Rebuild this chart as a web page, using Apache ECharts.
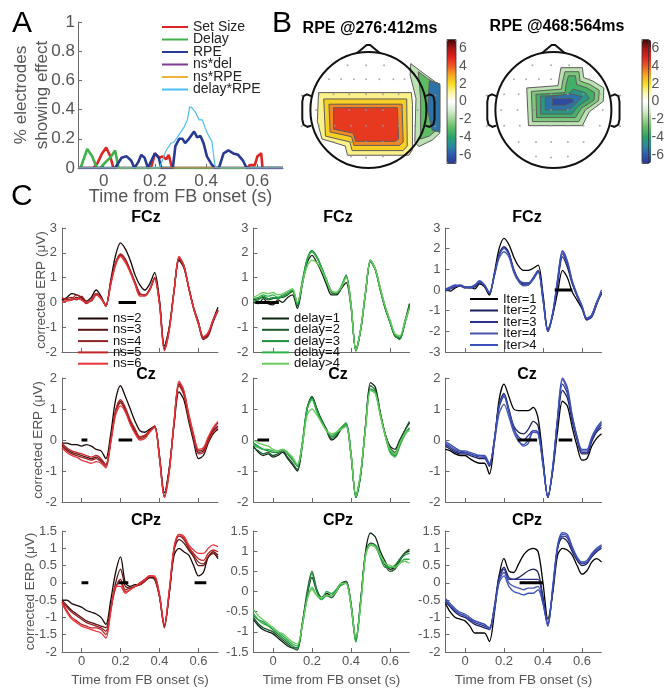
<!DOCTYPE html>
<html>
<head>
<meta charset="utf-8">
<script src="https://cdn.jsdelivr.net/npm/echarts@6/dist/echarts.min.js"></script>
<style>
html, body { margin: 0; padding: 0; background: #fff; }
#chart { width: 667px; height: 688px; }
</style>
</head>
<body>
<div id="chart"></div>
<script>
const FONT = '"Liberation Sans", Arial, Helvetica, sans-serif';

// ---------- panel A : % electrodes showing effect ----------
const aSetSize = [[-0.1,0],[-0.04,0],[-0.025,0.03],[-0.006,0.1],[0.01,0.14],[0.026,0.08],[0.038,0],[0.185,0],[0.2,0.1],[0.207,0.09],[0.218,0.07],[0.23,0.08],[0.244,0.06],[0.254,0.09],[0.267,0],[0.56,0],[0.57,0.02],[0.59,0.02],[0.6,0.08],[0.615,0.1],[0.62,0],[0.7,0]];
const aDelay = [[-0.1,0],[-0.09,0],[-0.064,0.13],[-0.045,0.08],[-0.026,0],[-0.013,0],[0.013,0.05],[0.026,0.07],[0.045,0.12],[0.058,0],[0.7,0]];
const aRPE = [[-0.1,0],[0.045,0],[0.07,0.07],[0.09,0.08],[0.108,0.05],[0.12,0],[0.135,0.04],[0.147,0.09],[0.16,0.07],[0.173,0],[0.186,0.05],[0.2,0.1],[0.215,0.07],[0.225,0],[0.27,0],[0.28,0.15],[0.295,0.2],[0.308,0.2],[0.318,0.17],[0.333,0.2],[0.353,0.25],[0.365,0.21],[0.378,0.22],[0.39,0.17],[0.403,0.08],[0.423,0.02],[0.436,0],[0.45,0],[0.468,0.1],[0.487,0.12],[0.506,0.1],[0.525,0.09],[0.544,0.05],[0.558,0],[0.7,0]];
const aNsDel = [[-0.1,0],[0.7,0]];
const aNsRPE = [[-0.1,0],[0.7,0]];
const aDelayRPE = [[-0.1,0],[0.218,0],[0.244,0.12],[0.263,0.17],[0.276,0.18],[0.295,0.23],[0.314,0.28],[0.327,0.33],[0.336,0.42],[0.346,0.41],[0.359,0.38],[0.372,0.33],[0.385,0.33],[0.397,0.27],[0.41,0.22],[0.423,0.18],[0.433,0.03],[0.438,0],[0.7,0]];
const timeTicks = [0, 0.2, 0.4, 0.6];

// ---------- panel B : scalp maps (head radius = 1) ----------
const topo1Levels = [1.2, 2.3, 3.4, 4.6, -1.5, -3.0, -5.5];
const topo1Polys = [
  [[-0.86,0.3],[0.74,0.3],[0.76,0.1],[0.76,-0.68],[0.7,-0.78],[-0.36,-0.78],[-0.4,-0.62],[-0.8,-0.5],[-0.88,-0.2]],
  [[-0.77,0.19],[0.66,0.19],[0.67,-0.62],[0.6,-0.7],[-0.28,-0.7],[-0.32,-0.55],[-0.74,-0.45]],
  [[-0.68,0.1],[0.58,0.1],[0.6,-0.55],[0.54,-0.61],[-0.25,-0.61],[-0.29,-0.46],[-0.66,-0.38]],
  [[-0.6,0.04],[0.5,0.04],[0.52,-0.5],[0.46,-0.54],[-0.22,-0.54],[-0.26,-0.4],[-0.6,-0.33]],
  [[0.73,0.8],[0.94,0.64],[1.16,0.48],[1.23,0.45],[1.23,-0.4],[1.1,-0.52],[0.87,-0.63],[0.8,-0.55],[0.82,0.2],[0.72,0.6]],
  [[0.86,0.66],[1.02,0.54],[1.18,0.45],[1.23,0.42],[1.23,-0.3],[1.05,-0.45],[0.9,-0.5],[0.9,0.2]],
  [[1.05,0.5],[1.23,0.45],[1.23,-0.38],[1.1,-0.35],[1.02,0.0]]
];
const topo2Levels = [-1.5, -2.5, -3.5, -4.5, -5.5, -6.5];
const topo2Polys = [
  [[0.13,0.73],[0.5,0.73],[0.52,0.56],[0.68,0.5],[0.87,0.38],[0.86,0.15],[0.62,-0.03],[0.5,-0.27],[-0.43,-0.27],[-0.46,0.38],[0.08,0.42],[0.1,0.56]],
  [[0.2,0.66],[0.44,0.66],[0.46,0.5],[0.63,0.44],[0.79,0.34],[0.78,0.16],[0.55,0.0],[0.44,-0.2],[-0.36,-0.2],[-0.38,0.32],[0.14,0.36],[0.16,0.5]],
  [[0.26,0.59],[0.38,0.59],[0.4,0.44],[0.58,0.38],[0.71,0.3],[0.7,0.17],[0.48,0.03],[0.38,-0.13],[-0.29,-0.13],[-0.3,0.27],[0.2,0.3],[0.22,0.44]],
  [[-0.22,0.24],[0.25,0.26],[0.34,0.36],[0.55,0.3],[0.62,0.2],[0.42,0.06],[0.32,-0.07],[-0.22,-0.07]],
  [[-0.14,0.22],[0.3,0.28],[0.5,0.23],[0.36,0.08],[0.25,0.0],[-0.14,0.0]],
  [[-0.02,0.2],[0.32,0.2],[0.36,0.14],[0.2,0.08],[-0.02,0.08]]
];
const electrodes = [
  [-0.36,0.77],[-0.04,0.77],[0.27,0.77],
  [-0.68,0.53],[-0.47,0.53],[-0.25,0.53],[-0.04,0.53],[0.19,0.53],[0.43,0.53],[0.62,0.53],
  [-1.15,0.25],[-0.85,0.27],[-0.6,0.27],[-0.33,0.27],[-0.04,0.27],[0.25,0.27],[0.52,0.27],[0.8,0.27],[1.15,0.25],
  [-0.9,0.0],[-0.62,0.0],[-0.33,0.0],[-0.04,0.0],[0.25,0.0],[0.55,0.0],[0.85,0.0],
  [-1.15,-0.28],[-0.85,-0.27],[-0.58,-0.27],[-0.3,-0.27],[-0.04,-0.27],[0.25,-0.27],[0.52,-0.27],[0.8,-0.27],[1.15,-0.28],
  [-0.6,-0.55],[-0.3,-0.55],[-0.04,-0.55],[0.25,-0.55],[0.52,-0.55],
  [-0.3,-0.8],[-0.04,-0.82],[0.25,-0.8]
];
const cbarTicks = [-6, -4, -2, 0, 2, 4, 6];
const cmap = ['#2b3990','#2f5cb0','#2a8aa0','#2aa36a','#5dbb63','#9fd393','#d9eed2','#ffffff','#fbf6a4','#f8df22','#f6a623','#ee5a24','#e2231d','#a81616','#3a0808'];

// ---------- panel C : ERPs ----------
const tERP = [-0.1,-0.075,-0.05,-0.025,0,0.025,0.05,0.075,0.1,0.125,0.15,0.175,0.2,0.225,0.25,0.275,0.3,0.325,0.35,0.375,0.4,0.425,0.45,0.475,0.5,0.525,0.55,0.575,0.6,0.625,0.65,0.675,0.7];
const nsNames = ['ns=2','ns=3','ns=4','ns=5','ns=6'];
const delayNames = ['delay=1','delay=2','delay=3','delay=4','delay>4'];
const iterNames = ['Iter=1','Iter=2','Iter=3','Iter=4','Iter>4'];
const nsColors = ['#1a0505','#5a1515','#8e2222','#bf2626','#e8343c'];
const delayColors = ['#0b2410','#1f5a2c','#1b8f3a','#2cb14a','#6ccb5f'];
const iterColors = ['#000000','#1b1f5e','#2b318e','#4656a8','#3a50bb'];

const fczNs = [
  [0.1,0.2,0.35,0.3,0.2,0.05,0.2,0.5,0.25,-0.15,0.9,1.9,2.4,2.15,1.7,1.1,0.7,0.5,0.75,1.2,0.1,-1.75,-1.0,0.5,1.7,1.4,0.6,-0.2,-0.8,-1.4,-1.25,-0.7,-0.2],
  [0.15,0.1,0.1,0.2,0.1,0.0,0.1,0.35,0.2,-0.15,0.8,1.6,1.95,1.75,1.3,0.8,0.35,0.3,0.55,1.0,0.0,-1.85,-1.05,0.5,1.8,1.5,0.6,-0.25,-0.85,-1.45,-1.3,-0.75,-0.3],
  [0.05,0.15,0.2,0.1,0.25,0.05,0.05,0.3,0.15,-0.1,0.75,1.55,1.9,1.7,1.25,0.75,0.3,0.3,0.5,0.95,-0.05,-1.9,-1.1,0.45,1.75,1.45,0.55,-0.25,-0.9,-1.5,-1.35,-0.8,-0.35],
  [0.2,0.1,0.15,0.3,0.15,-0.05,0.1,0.35,0.2,-0.1,0.8,1.6,1.95,1.7,1.3,0.8,0.35,0.3,0.5,1.0,0.0,-1.85,-1.05,0.5,1.8,1.45,0.6,-0.2,-0.8,-1.4,-1.25,-0.7,-0.3],
  [0.0,0.05,0.1,0.15,0.1,0.0,0.1,0.3,0.15,-0.15,0.7,1.5,1.85,1.6,1.2,0.7,0.25,0.25,0.5,0.95,-0.1,-1.95,-1.15,0.45,1.85,1.5,0.6,-0.25,-0.85,-1.4,-1.2,-0.7,-0.35]
];
const fczDelay = [
  [0.0,-0.05,0.15,-0.05,-0.1,0.1,0.0,0.2,0.3,-0.25,0.7,1.6,1.9,1.6,1.2,0.7,0.3,0.3,0.55,0.8,-0.2,-1.9,-1.1,0.4,1.65,1.3,0.5,-0.25,-0.8,-1.35,-1.45,-0.8,-0.05],
  [0.1,0.15,0.2,0.1,0.15,0.2,0.2,0.3,0.45,-0.15,0.8,1.7,2.05,1.8,1.35,0.85,0.4,0.35,0.6,1.05,-0.1,-1.95,-1.1,0.45,1.7,1.35,0.55,-0.2,-0.8,-1.35,-1.45,-0.85,-0.15],
  [0.05,0.1,0.25,0.15,0.2,0.15,0.25,0.35,0.5,-0.1,0.85,1.75,2.1,1.85,1.4,0.9,0.45,0.35,0.65,1.1,-0.05,-1.95,-1.05,0.45,1.7,1.35,0.55,-0.15,-0.75,-1.3,-1.5,-0.9,-0.1],
  [0.15,0.2,0.3,0.25,0.3,0.2,0.3,0.4,0.5,-0.05,0.8,1.7,2.05,1.8,1.4,0.9,0.45,0.4,0.65,1.05,-0.1,-1.95,-1.1,0.4,1.65,1.3,0.5,-0.2,-0.8,-1.3,-1.4,-0.85,-0.2],
  [0.2,0.3,0.4,0.35,0.4,0.3,0.35,0.45,0.55,0.0,0.75,1.45,1.7,1.6,1.3,0.85,0.45,0.4,0.6,1.0,-0.1,-1.9,-1.05,0.45,1.7,1.35,0.6,-0.15,-0.7,-1.25,-1.35,-0.8,-0.25]
];
const fczIter = [
  [0.0,-0.05,0.1,0.2,0.1,0.15,0.05,0.3,0.15,-0.25,0.8,2.0,2.5,2.2,1.6,1.15,0.95,0.95,1.05,1.2,-0.2,-1.9,-1.2,-0.1,0.95,0.6,-0.1,-0.5,-0.9,-1.45,-1.2,-0.6,-0.2],
  [0.05,0.1,0.2,0.2,0.15,0.1,0.15,0.35,0.2,-0.2,0.7,1.75,2.1,1.8,1.0,0.5,0.3,0.3,0.6,0.95,-0.4,-2.0,-1.2,0.3,1.6,1.1,0.3,-0.3,-0.8,-1.4,-1.3,-0.7,-0.1],
  [-0.05,0.05,0.15,0.25,0.15,0.1,0.2,0.4,0.25,-0.15,0.7,1.7,2.05,1.75,0.95,0.45,0.25,0.25,0.55,0.9,-0.45,-2.0,-1.15,0.4,1.75,1.25,0.35,-0.3,-0.85,-1.45,-1.3,-0.7,-0.15],
  [0.0,0.1,0.2,0.2,0.1,0.1,0.2,0.4,0.2,-0.15,0.65,1.55,1.85,1.6,0.85,0.4,0.2,0.25,0.5,0.85,-0.5,-2.0,-1.1,0.5,1.85,1.35,0.4,-0.25,-0.8,-1.4,-1.25,-0.65,-0.1],
  [0.05,0.15,0.25,0.2,0.15,0.15,0.25,0.45,0.25,-0.1,0.7,1.65,2.0,1.7,0.95,0.5,0.35,0.35,0.6,0.95,-0.4,-1.95,-1.1,0.55,1.9,1.4,0.45,-0.2,-0.75,-1.35,-1.2,-0.6,0.0]
];
const czNs = [
  [-0.1,-0.1,-0.15,-0.15,-0.2,-0.15,-0.2,-0.3,-0.35,-0.6,0.2,1.3,1.75,1.4,1.0,0.6,0.3,0.25,0.35,0.45,-0.5,-1.7,-0.9,0.5,1.55,1.3,0.6,-0.05,-0.6,-0.5,-0.1,0.2,0.35],
  [-0.15,-0.3,-0.4,-0.45,-0.5,-0.55,-0.6,-0.55,-0.65,-0.8,0.0,0.95,1.25,1.0,0.6,0.3,0.1,0.15,0.3,0.45,-0.55,-1.8,-0.95,0.6,1.8,1.5,0.75,0.1,-0.4,-0.35,0.0,0.3,0.45],
  [-0.2,-0.35,-0.45,-0.5,-0.55,-0.6,-0.65,-0.6,-0.7,-0.85,-0.05,0.9,1.2,0.95,0.55,0.25,0.05,0.1,0.3,0.4,-0.6,-1.85,-1.0,0.6,1.85,1.55,0.8,0.15,-0.35,-0.3,0.05,0.35,0.55],
  [-0.1,-0.25,-0.35,-0.4,-0.45,-0.5,-0.55,-0.5,-0.6,-0.8,0.0,0.95,1.3,1.05,0.65,0.35,0.1,0.15,0.3,0.45,-0.55,-1.8,-0.95,0.55,1.75,1.45,0.7,0.05,-0.45,-0.4,-0.05,0.25,0.4],
  [-0.25,-0.4,-0.5,-0.55,-0.65,-0.7,-0.75,-0.7,-0.75,-0.9,-0.1,0.8,1.1,0.9,0.5,0.2,0.0,0.05,0.25,0.4,-0.6,-1.85,-1.05,0.6,1.9,1.6,0.85,0.2,-0.3,-0.25,0.1,0.4,0.6]
];
const czDelay = [
  [-0.2,-0.4,-0.5,-0.45,-0.55,-0.5,-0.4,-0.6,-0.8,-1.0,-0.2,1.0,1.4,1.0,0.6,0.3,0.0,0.1,0.35,0.45,-0.5,-1.8,-1.1,0.5,1.85,1.7,0.9,0.2,-0.2,-0.3,0.0,0.3,0.55],
  [-0.25,-0.35,-0.45,-0.4,-0.5,-0.45,-0.35,-0.55,-0.75,-0.95,-0.15,1.0,1.4,1.0,0.65,0.35,0.05,0.15,0.35,0.5,-0.45,-1.85,-1.1,0.5,1.75,1.6,0.85,0.2,-0.25,-0.4,-0.05,0.3,0.6],
  [-0.1,-0.2,-0.3,-0.35,-0.4,-0.4,-0.3,-0.45,-0.65,-0.85,-0.1,1.05,1.35,0.95,0.6,0.3,0.1,0.2,0.4,0.55,-0.4,-1.85,-1.1,0.45,1.65,1.55,0.85,0.15,-0.35,-0.5,-0.15,0.2,0.4],
  [-0.15,-0.25,-0.3,-0.3,-0.35,-0.35,-0.3,-0.4,-0.6,-0.8,-0.1,1.0,1.3,0.9,0.55,0.3,0.15,0.25,0.4,0.5,-0.45,-1.8,-1.05,0.45,1.6,1.5,0.8,0.15,-0.4,-0.55,-0.2,0.15,0.35],
  [0.0,-0.1,-0.15,-0.2,-0.3,-0.35,-0.3,-0.4,-0.55,-0.8,-0.2,0.8,1.0,0.8,0.55,0.3,0.2,0.25,0.35,0.45,-0.45,-1.8,-1.0,0.4,1.6,1.5,0.8,0.15,-0.3,-0.45,-0.1,0.2,0.3]
];
const czIter = [
  [-0.3,-0.35,-0.45,-0.5,-0.5,-0.6,-0.7,-0.75,-0.75,-1.1,-0.1,1.3,1.8,1.4,1.0,0.95,0.95,0.95,1.05,0.7,-0.6,-1.85,-1.0,0.3,1.25,1.1,0.4,-0.2,-0.65,-0.6,-0.2,0.05,0.2],
  [-0.2,-0.3,-0.4,-0.45,-0.45,-0.5,-0.55,-0.6,-0.6,-0.85,0.0,1.15,1.5,1.0,0.45,0.25,0.2,0.35,0.6,0.45,-0.7,-1.85,-0.95,0.6,1.6,1.35,0.6,0.0,-0.45,-0.45,-0.05,0.25,0.4],
  [-0.15,-0.25,-0.35,-0.4,-0.4,-0.45,-0.5,-0.55,-0.55,-0.8,-0.05,1.05,1.4,0.9,0.35,0.1,0.0,0.15,0.3,0.25,-0.8,-1.85,-0.9,0.7,1.8,1.5,0.7,0.05,-0.4,-0.4,0.0,0.3,0.5],
  [-0.1,-0.2,-0.3,-0.35,-0.35,-0.4,-0.45,-0.5,-0.5,-0.75,-0.1,0.85,1.15,0.75,0.25,-0.05,-0.15,0.0,0.25,0.2,-0.8,-1.8,-0.85,0.7,1.95,1.6,0.75,0.1,-0.35,-0.35,0.05,0.35,0.55],
  [-0.05,-0.15,-0.25,-0.35,-0.4,-0.45,-0.5,-0.5,-0.55,-0.8,0.0,1.1,1.45,0.95,0.4,0.0,-0.2,-0.1,0.3,0.25,-0.75,-1.85,-0.9,0.75,2.0,1.7,0.8,0.1,-0.3,-0.3,0.1,0.4,0.6]
];
const cpzNs = [
  [-0.5,-0.5,-0.6,-0.65,-0.7,-0.8,-0.85,-0.9,-1.0,-1.2,-0.5,0.3,0.75,0.0,-0.1,-0.05,-0.05,0.05,0.15,0.1,-0.4,-1.25,-0.3,0.8,1.0,0.9,0.8,0.5,0.2,0.3,0.75,0.85,0.7],
  [-0.5,-0.65,-0.8,-0.9,-1.0,-1.1,-1.15,-1.2,-1.25,-1.3,-0.7,0.0,0.4,-0.1,-0.15,-0.1,-0.05,0.05,0.15,0.15,-0.35,-1.25,-0.3,0.95,1.25,1.15,0.95,0.75,0.5,0.5,0.75,0.9,0.8],
  [-0.55,-0.7,-0.85,-0.95,-1.05,-1.15,-1.2,-1.25,-1.3,-1.4,-0.75,-0.15,0.1,-0.2,-0.15,-0.1,0.0,0.1,0.2,0.15,-0.4,-1.3,-0.3,1.0,1.35,1.25,1.0,0.8,0.6,0.55,0.75,0.85,0.75],
  [-0.55,-0.8,-1.0,-1.1,-1.2,-1.25,-1.3,-1.3,-1.35,-1.5,-0.8,-0.1,0.0,-0.25,-0.2,-0.1,-0.05,0.05,0.2,0.15,-0.4,-1.25,-0.25,1.0,1.4,1.3,1.05,0.85,0.7,0.65,0.85,0.95,0.9],
  [-0.6,-0.85,-1.05,-1.15,-1.25,-1.3,-1.35,-1.4,-1.45,-1.6,-0.85,-0.1,-0.1,-0.3,-0.2,-0.1,0.0,0.1,0.2,0.2,-0.35,-1.2,-0.2,1.05,1.4,1.35,1.1,0.95,0.85,0.85,1.0,1.1,1.05]
];
const cpzDelay = [
  [-0.7,-0.85,-0.95,-1.0,-1.05,-1.15,-1.25,-1.35,-1.4,-1.4,-0.8,-0.1,0.35,0.0,-0.15,-0.05,-0.1,0.0,0.2,0.25,-0.3,-1.2,-0.2,1.0,1.45,1.35,1.0,0.75,0.55,0.6,0.8,0.95,1.0],
  [-0.65,-0.8,-0.9,-0.95,-1.0,-1.1,-1.2,-1.3,-1.4,-1.45,-0.8,0.0,0.5,0.05,-0.15,-0.1,-0.15,0.0,0.2,0.25,-0.3,-1.2,-0.2,0.95,1.2,1.15,0.9,0.65,0.5,0.55,0.75,0.95,1.05],
  [-0.6,-0.7,-0.75,-0.85,-0.95,-1.05,-1.15,-1.25,-1.35,-1.4,-0.85,-0.1,0.45,0.0,-0.2,-0.1,-0.1,0.05,0.2,0.2,-0.35,-1.25,-0.25,0.95,1.15,1.1,0.85,0.6,0.6,0.65,0.8,0.9,0.95],
  [-0.55,-0.7,-0.8,-0.85,-0.9,-1.0,-1.1,-1.2,-1.3,-1.35,-0.85,-0.2,0.1,-0.1,-0.2,0.0,-0.05,0.05,0.15,0.2,-0.35,-1.25,-0.3,0.9,1.15,1.15,0.9,0.7,0.6,0.6,0.7,0.8,0.8],
  [-0.45,-0.6,-0.7,-0.8,-0.9,-1.0,-1.05,-1.15,-1.25,-1.3,-0.85,-0.2,0.05,-0.1,-0.15,-0.1,-0.1,0.0,0.2,0.2,-0.35,-1.15,-0.3,0.9,1.15,1.1,0.9,0.7,0.65,0.6,0.7,0.75,0.7]
];
const cpzIter = [
  [-0.6,-0.85,-1.0,-1.05,-1.1,-1.25,-1.45,-1.45,-1.45,-1.7,-0.9,0.2,0.7,0.35,0.3,0.55,0.8,0.95,1.0,0.9,0.0,-1.05,-0.3,0.8,1.0,0.95,0.8,0.5,0.25,0.35,0.6,0.7,0.6],
  [-0.55,-0.7,-0.85,-0.95,-1.0,-1.1,-1.2,-1.25,-1.3,-1.35,-0.7,0.2,0.45,0.15,0.1,0.15,0.25,0.35,0.4,0.3,-0.4,-1.2,-0.2,1.0,1.3,1.2,0.9,0.65,0.5,0.55,0.75,0.9,1.0],
  [-0.5,-0.65,-0.8,-0.9,-0.95,-1.05,-1.15,-1.2,-1.25,-1.3,-0.75,0.1,0.4,0.1,0.1,0.1,0.1,0.1,0.1,0.1,-0.5,-1.25,-0.2,1.0,1.35,1.3,0.95,0.7,0.55,0.6,0.8,0.95,1.05],
  [-0.45,-0.6,-0.75,-0.85,-0.9,-1.0,-1.1,-1.15,-1.2,-1.3,-0.75,0.05,0.3,0.0,-0.1,-0.15,-0.2,-0.15,-0.15,-0.1,-0.6,-1.25,-0.15,1.05,1.4,1.35,1.0,0.7,0.6,0.65,0.85,1.0,1.1],
  [-0.5,-0.65,-0.8,-0.9,-0.95,-1.05,-1.1,-1.15,-1.2,-1.35,-0.8,0.0,0.2,-0.1,-0.25,-0.3,-0.35,-0.3,-0.3,-0.2,-0.6,-1.2,-0.1,1.1,1.45,1.4,1.05,0.75,0.6,0.6,0.8,0.95,1.05]
];
// significance bars (time windows drawn at 0)
const sigFczNs = [[0.19,0.28]];
const sigFczDelay = [[-0.09,0.03]];
const sigFczIter = [[0.46,0.55]];
const sigCzNs = [[0.0,0.03],[0.19,0.26]];
const sigCzDelay = [[-0.08,-0.02]];
const sigCzIter = [[0.27,0.37],[0.48,0.55]];
const sigCpzNs = [[0.0,0.035],[0.19,0.24],[0.58,0.64]];
const sigCpzDelay = [];
const sigCpzIter = [[0.28,0.4]];

// ---------- layout ----------
const AX = '#6a6a6a', LBL = '#555';
const colLeft = [62, 253.5, 445.5];
const rowTop = [228, 378, 531];
const rowNames = ['FCz', 'Cz', 'CPz'];
const yRanges = [
  [[-2,3,1],[-2,3,1],[-3,3,1]],
  [[-2,2,1],[-2,2,1],[-2,2,1]],
  [[-2,1.5,0.5],[-1.5,1.5,0.5],[-2,1.5,0.5]]
];
const panels = [
  [fczNs, fczDelay, fczIter, sigFczNs, sigFczDelay, sigFczIter],
  [czNs, czDelay, czIter, sigCzNs, sigCzDelay, sigCzIter],
  [cpzNs, cpzDelay, cpzIter, sigCpzNs, sigCpzDelay, sigCpzIter]
];
const colNames = [nsNames, delayNames, iterNames];
const colColors = [nsColors, delayColors, iterColors];

const grid = [
  {left: 78, top: 22, width: 205, height: 146},
  {left: 293, top: 34.6, width: 150.8, height: 150.8},
  {left: 478, top: 34.6, width: 150.8, height: 150.8},
  {left: 447, top: 39.5, width: 9, height: 124, show: true, borderColor: '#333', borderWidth: 0.8, backgroundColor: 'transparent', z: 6},
  {left: 642, top: 39.5, width: 9, height: 124, show: true, borderColor: '#333', borderWidth: 0.8, backgroundColor: 'transparent', z: 6}
];
const xAxis = [
  {gridIndex: 0, type: 'value', min: -0.1, max: 0.7,
   axisLine: {onZero: false, lineStyle: {color: AX}},
   axisTick: {inside: true, length: 4, customValues: timeTicks, lineStyle: {color: AX}},
   axisLabel: {customValues: timeTicks, margin: 5, fontSize: 17, color: LBL, fontFamily: FONT},
   splitLine: {show: false},
   name: 'Time from FB onset (s)', nameLocation: 'middle', nameGap: 20, nameMoveOverlap: false,
   nameTextStyle: {fontSize: 18, color: LBL, fontFamily: FONT}},
  {gridIndex: 1, type: 'value', min: -1.3, max: 1.3, show: false},
  {gridIndex: 2, type: 'value', min: -1.3, max: 1.3, show: false},
  {gridIndex: 3, type: 'value', min: 0, max: 1, show: false},
  {gridIndex: 4, type: 'value', min: 0, max: 1, show: false}
];
const cbarY = gi => ({gridIndex: gi, type: 'value', min: -7, max: 7, position: 'right',
  axisLine: {show: false}, axisTick: {show: false}, splitLine: {show: false},
  axisLabel: {customValues: cbarTicks, margin: 3, fontSize: 14, color: LBL, fontFamily: FONT}});
const yAxis = [
  {gridIndex: 0, type: 'value', min: 0, max: 1, interval: 0.2,
   axisLine: {show: true, onZero: false, lineStyle: {color: AX}},
   axisTick: {show: true, inside: true, length: 4, lineStyle: {color: AX}},
   axisLabel: {margin: 3, fontSize: 17, color: LBL, fontFamily: FONT},
   splitLine: {show: false},
   name: '% electrodes\nshowing effect', nameLocation: 'middle', nameRotate: 90, nameGap: 25,
   nameMoveOverlap: false,
   nameTextStyle: {fontSize: 17, lineHeight: 21, color: LBL, fontFamily: FONT}},
  {gridIndex: 1, type: 'value', min: -1.3, max: 1.3, show: false},
  {gridIndex: 2, type: 'value', min: -1.3, max: 1.3, show: false},
  cbarY(3), cbarY(4)
];

const series = [];
[
  ['Set Size', aSetSize, '#e02424', 2.6],
  ['Delay', aDelay, '#3fb34a', 2.6],
  ['RPE', aRPE, '#283a92', 2.6],
  ['ns*del', aNsDel, '#7e3a96', 1.2],
  ['ns*RPE', aNsRPE, '#efb23a', 1.2],
  ['delay*RPE', aDelayRPE, '#4cbff0', 1.2]
].forEach(([name, data, color, w]) => series.push({
  type: 'line', name, data, xAxisIndex: 0, yAxisIndex: 0, symbol: 'none',
  lineStyle: {color, width: w}, itemStyle: {color}, silent: true
}));

function contourSeries(gi, polys, levels) {
  return {
    type: 'custom', xAxisIndex: gi, yAxisIndex: gi, silent: true, z: 2,
    data: levels.map(v => [0, 0, v]),
    encode: {x: 0, y: 1},
    renderItem: (params, api) => ({
      type: 'polygon',
      shape: {points: polys[params.dataIndex].map(p => api.coord(p))},
      style: {fill: api.visual('color'), stroke: '#5c5c5c', lineWidth: 1}
    })
  };
}
function headSeries(gi) {
  return {
    type: 'custom', xAxisIndex: gi, yAxisIndex: gi, silent: true, z: 5,
    data: [[0, 0]],
    renderItem: (params, api) => {
      const c = api.coord([0, 0]);
      const r = api.size([1, 0])[0];
      const P = p => api.coord(p);
      const st = {fill: 'none', stroke: '#111', lineWidth: 2};
      const ear = s => [[0.985,0.24],[1.06,0.27],[1.12,0.24],[1.14,0.14],[1.14,-0.16],[1.12,-0.25],[1.05,-0.29],[0.985,-0.27]].map(p => P([s * p[0], p[1]]));
      return {type: 'group', children: [
        {type: 'circle', shape: {cx: c[0], cy: c[1], r}, style: st},
        {type: 'polyline', shape: {points: [P([-0.2,0.98]), P([-0.03,1.12]), P([0.03,1.12]), P([0.2,0.98])]}, style: st},
        {type: 'polyline', shape: {points: ear(-1)}, style: st},
        {type: 'polyline', shape: {points: ear(1)}, style: st}
      ]};
    }
  };
}
function electrodeSeries(gi) {
  return {type: 'scatter', xAxisIndex: gi, yAxisIndex: gi, data: electrodes, symbolSize: 2,
    itemStyle: {color: '#9a9a9a'}, silent: true, z: 4};
}
series.push(contourSeries(1, topo1Polys, topo1Levels));   // index 6
series.push(headSeries(1), electrodeSeries(1));
series.push(contourSeries(2, topo2Polys, topo2Levels));   // index 9
series.push(headSeries(2), electrodeSeries(2));

const yNameGap = [14, 17, 25];
const graphic = [];
const txt = (text, x, y, size, weight, align, valign) => ({type: 'text', silent: true,
  style: {text, x, y, fontSize: size, fontWeight: weight, fontFamily: FONT, fill: '#000',
    textAlign: align, textVerticalAlign: valign}});
graphic.push(txt('A', 12, 9, 30, 'normal', 'left', 'top'));
graphic.push(txt('B', 272, 9, 30, 'normal', 'left', 'top'));
graphic.push(txt('C', 11, 182, 30, 'normal', 'left', 'top'));
graphic.push(txt('RPE @276:412ms', 370, 28.5, 16, 'bold', 'center', 'middle'));
graphic.push(txt('RPE @468:564ms', 557, 26.5, 16, 'bold', 'center', 'middle'));
const titleX = [146, 338, 527];
const titleY = [218, 375, 521];

for (let r = 0; r < 3; r++) {
  for (let c = 0; c < 3; c++) {
    const gi = grid.length;
    grid.push({left: colLeft[c], top: rowTop[r], width: 156, height: r === 2 ? 123.5 : 124});
    const last = r === 2;
    xAxis.push({gridIndex: gi, type: 'value', min: -0.1, max: 0.7,
      axisLine: {onZero: false, lineStyle: {color: AX}},
      axisTick: {inside: true, length: 4, customValues: timeTicks, lineStyle: {color: AX}},
      axisLabel: {show: last, customValues: timeTicks, margin: 3, fontSize: 13, color: LBL, fontFamily: FONT},
      splitLine: {show: false},
      name: last ? 'Time from FB onset (s)' : '', nameLocation: 'middle', nameGap: 21,
      nameMoveOverlap: false,
      nameTextStyle: {fontSize: 13.5, color: LBL, fontFamily: FONT}});
    const [mn, mx, iv] = yRanges[r][c];
    yAxis.push({gridIndex: gi, type: 'value', min: mn, max: mx, interval: iv,
      axisLine: {show: true, onZero: false, lineStyle: {color: AX}},
      axisTick: {show: true, inside: true, length: 4, lineStyle: {color: AX}},
      axisLabel: {margin: 5, fontSize: 13, color: LBL, fontFamily: FONT},
      splitLine: {show: false},
      name: c === 0 ? 'corrected ERP (\u03bcV)' : '', nameLocation: 'middle', nameRotate: 90,
      nameGap: yNameGap[r], nameMoveOverlap: false,
      nameTextStyle: {fontSize: 13.5, color: LBL, fontFamily: FONT}});
    panels[r][c].forEach((vals, j) => series.push({
      type: 'line', name: colNames[c][j], xAxisIndex: gi, yAxisIndex: gi,
      data: tERP.map((t, i) => [t, vals[i]]), smooth: 0.3, symbol: 'none', silent: true,
      lineStyle: {color: colColors[c][j], width: 1.3}, itemStyle: {color: colColors[c][j]}, z: 3
    }));
    panels[r][c + 3].forEach(seg => series.push({
      type: 'line', xAxisIndex: gi, yAxisIndex: gi, data: [[seg[0], 0], [seg[1], 0]],
      symbol: 'none', silent: true, lineStyle: {color: '#000', width: 3}, z: 6
    }));
    graphic.push(txt(rowNames[r], titleX[c], titleY[r], 16, 'bold', 'center', 'middle'));
  }
}

// legend icons: line only (tiny itemHeight keeps the symbol invisible)
const legendBase = {orient: 'vertical', padding: 0, selectedMode: false, itemHeight: 1,
  itemStyle: {opacity: 0}};
const legend = [
  Object.assign({}, legendBase, {data: ['Set Size','Delay','RPE','ns*del','ns*RPE','delay*RPE'],
    left: 161, top: 20, itemWidth: 26, itemGap: -1.5,
    textStyle: {fontSize: 14, lineHeight: 12.4, color: '#222', fontFamily: FONT}}),
  Object.assign({}, legendBase, {data: nsNames, left: 77, top: 312, itemWidth: 30, itemGap: -1.7,
    textStyle: {fontSize: 13, lineHeight: 10.8, color: '#111', fontFamily: FONT}}),
  Object.assign({}, legendBase, {data: delayNames, left: 261, top: 312, itemWidth: 27, itemGap: -1.7,
    textStyle: {fontSize: 13, lineHeight: 10.8, color: '#111', fontFamily: FONT}}),
  Object.assign({}, legendBase, {data: iterNames, left: 469, top: 292.5, itemWidth: 28, itemGap: -1.5,
    textStyle: {fontSize: 13, lineHeight: 11.5, color: '#111', fontFamily: FONT}})
];

const vmBase = {type: 'continuous', min: -7, max: 7, dimension: 2, calculable: false,
  orient: 'vertical', itemWidth: 9, itemHeight: 124, padding: 0, top: 39.5,
  inRange: {color: cmap}, hoverLink: false};
const visualMap = [
  Object.assign({}, vmBase, {seriesIndex: 6, left: 447}),
  Object.assign({}, vmBase, {seriesIndex: 9, left: 642})
];

const chart = echarts.init(document.getElementById('chart'));
chart.setOption({
  animation: false,
  backgroundColor: '#fff',
  textStyle: {fontFamily: FONT},
  grid, xAxis, yAxis, series, legend, visualMap, graphic
});
</script>
</body>
</html>
